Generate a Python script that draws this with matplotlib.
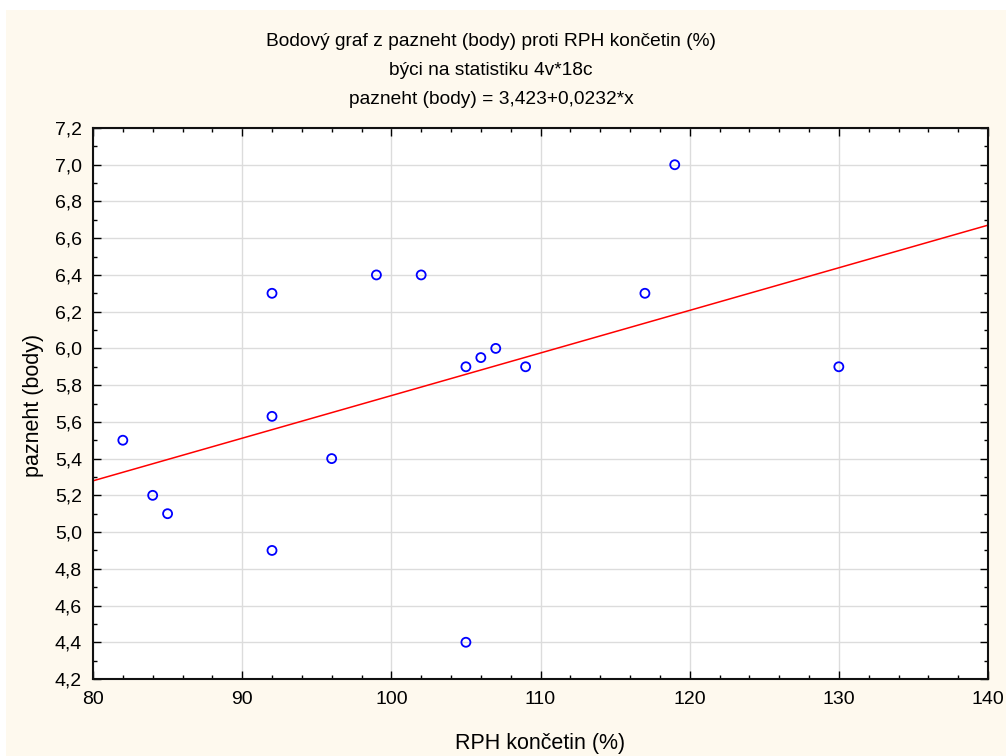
import numpy as np
import matplotlib.pyplot as plt
from matplotlib.ticker import MultipleLocator, FuncFormatter
from matplotlib.patches import Rectangle

plt.rcParams['font.family'] = ['Liberation Sans', 'DejaVu Sans']

# data
rph = [82, 84, 85, 92, 92, 92, 96, 99, 102, 105, 105, 106, 107, 109, 117, 119, 130]
pazneht = [5.5, 5.2, 5.1, 6.3, 5.63, 4.9, 5.4, 6.4, 6.4, 5.9, 4.4, 5.95, 6.0, 5.9, 6.3, 7.0, 5.9]
intercept = 3.423
slope = 0.0232

title_lines = [
    "Bodový graf z pazneht (body) proti RPH končetin (%)",
    "býci na statistiku 4v*18c",
    "pazneht (body) = 3,423+0,0232*x",
]

W, H = 1006, 756
fig = plt.figure(figsize=(W / 100, H / 100), dpi=100, facecolor='white')
fig.patches.append(Rectangle((6 / W, 0), 1, 1 - 10 / H, transform=fig.transFigure,
                             facecolor='#fef9ee', edgecolor='none', zorder=-10))

ax = fig.add_axes([93 / W, 1 - 679 / H, (988 - 93) / W, (679 - 128) / H])
ax.set_facecolor('white')

ax.scatter(rph, pazneht, s=42, facecolors='none', edgecolors='#0000ff',
           linewidths=1.3, zorder=3)
xs = np.array([80, 140])
ax.plot(xs, intercept + slope * xs, color='#ff0000', lw=1.1, zorder=2)

ax.set_xlim(80, 140)
ax.set_ylim(4.2, 7.2)
ax.xaxis.set_major_locator(MultipleLocator(10))
ax.xaxis.set_minor_locator(MultipleLocator(2))
ax.yaxis.set_major_locator(MultipleLocator(0.2))
ax.yaxis.set_minor_locator(MultipleLocator(0.1))
ax.yaxis.set_major_formatter(FuncFormatter(lambda v, p: f"{v:.1f}".replace('.', ',')))
ax.xaxis.set_major_formatter(FuncFormatter(lambda v, p: f"{v:.0f}"))

ax.tick_params(which='both', direction='in', top=True, right=True, labelsize=14,
               color='black', width=1)
ax.tick_params(which='major', length=6)
ax.tick_params(which='minor', length=3)
ax.tick_params(axis='x', which='major', pad=9)
ax.tick_params(axis='y', which='major', pad=8)

ax.grid(True, which='major', color='#dcdcdc', lw=1)
ax.set_axisbelow(True)
for s in ax.spines.values():
    s.set_linewidth(1.5)
    s.set_color('#111111')

fig.text(540 / W, 1 - 743 / H, "RPH končetin (%)", ha='center', va='center', fontsize=15.5)
fig.text(33 / W, 1 - 405 / H, "pazneht (body)", ha='center', va='center',
         rotation=90, fontsize=15.5)

for i, line in enumerate(title_lines):
    fig.text(491 / W, 1 - (41 + 29.5 * i) / H, line, ha='center', va='center', fontsize=13.8)

fig.savefig('out.png', dpi=100, facecolor=fig.get_facecolor())
